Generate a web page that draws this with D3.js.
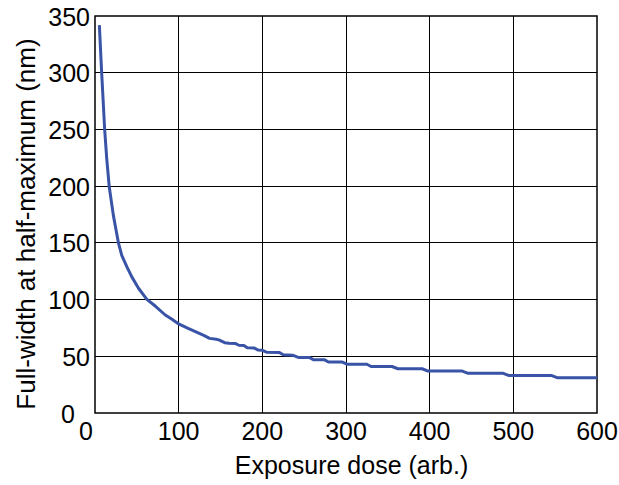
<!DOCTYPE html>
<html>
<head>
<meta charset="utf-8">
<script src="https://cdn.jsdelivr.net/npm/d3@7"></script>
<style>
  html, body { margin: 0; padding: 0; background: #fff; }
  svg text { font-family: "Liberation Sans", Arial, Helvetica, sans-serif; fill: #000; }
</style>
</head>
<body>
<svg id="chart" width="619" height="485"></svg>
<script>
// ---- data ----
const dose = [5.2, 8, 11.6, 14, 17, 22, 26, 28, 32, 38, 44, 52, 62, 72, 84, 92, 100, 110, 120, 130, 137,
  145, 148, 155, 160, 168, 172, 178, 182, 190, 195, 200, 205, 220, 225, 236, 243, 256, 261, 274, 279, 295,
  301, 325, 330, 355, 362, 391, 398, 439, 446, 488, 495, 546, 553, 600];
const fwhm = [342, 299.5, 249.5, 224.5, 199.5, 174, 158, 150, 139, 129, 120, 110, 100.2, 94.3, 86.4, 82.6, 78.5, 75, 71.7, 68.5, 65.8,
  65, 64.5, 62, 61.5, 61.2, 59.7, 59.5, 57.6, 57.4, 55.5, 55.3, 53.6, 53.4, 51.4, 51, 49, 49, 47, 47, 45, 45,
  43, 43, 41, 41, 39, 39, 37, 37, 35, 35, 33, 33, 31, 31];
const xTicks = [0, 100, 200, 300, 400, 500, 600];
const yTicks = [0, 50, 100, 150, 200, 250, 300, 350];
const xTitle = "Exposure dose (arb.)";
const yTitle = "Full-width at half-maximum (nm)";

const svg = d3.select("#chart");
const m = { left: 95, top: 16, right: 597, bottom: 413 };
const x = d3.scaleLinear().domain([0, 600]).range([m.left, m.right]);
const y = d3.scaleLinear().domain([0, 350]).range([m.bottom, m.top]);

// grid lines
const g = svg.append("g");
g.selectAll("line.vx").data(xTicks.slice(1, -1)).join("line")
  .attr("x1", d => x(d)).attr("x2", d => x(d))
  .attr("y1", m.top).attr("y2", m.bottom)
  .attr("stroke", "#000").attr("stroke-width", 1).attr("shape-rendering", "crispEdges");
g.selectAll("line.hy").data(yTicks.slice(1, -1)).join("line")
  .attr("y1", d => y(d)).attr("y2", d => y(d))
  .attr("x1", m.left).attr("x2", m.right)
  .attr("stroke", "#000").attr("stroke-width", 1).attr("shape-rendering", "crispEdges");

// frame
svg.append("rect").attr("x", m.left).attr("y", m.top)
  .attr("width", m.right - m.left).attr("height", m.bottom - m.top)
  .attr("fill", "none").attr("stroke", "#000").attr("stroke-width", 1.5);

// curve
const pts = dose.map((d, i) => [d, fwhm[i]]);
svg.append("path").datum(pts)
  .attr("fill", "none").attr("stroke", "#3953a6").attr("stroke-width", 3)
  .attr("stroke-linejoin", "round").attr("stroke-linecap", "butt")
  .attr("d", d3.line().x(d => x(d[0])).y(d => y(d[1])));

// tick labels
svg.selectAll("text.xt").data(xTicks).join("text")
  .attr("x", d => x(d) + (d === 0 ? -9 : 0)).attr("y", 439.5)
  .attr("text-anchor", "middle").attr("font-size", 25).text(d => d);
svg.selectAll("text.yt").data(yTicks).join("text")
  .attr("x", d => d === 0 ? 75 : 90).attr("y", d => y(d) + 9.5)
  .attr("text-anchor", "end").attr("font-size", 25).text(d => d);

// titles
svg.append("text").attr("x", 351.5).attr("y", 474)
  .attr("text-anchor", "middle").attr("font-size", 25).text(xTitle);
svg.append("text").attr("transform", "translate(35,224) rotate(-90)")
  .attr("text-anchor", "middle").attr("font-size", 26).text(yTitle);
</script>
</body>
</html>
